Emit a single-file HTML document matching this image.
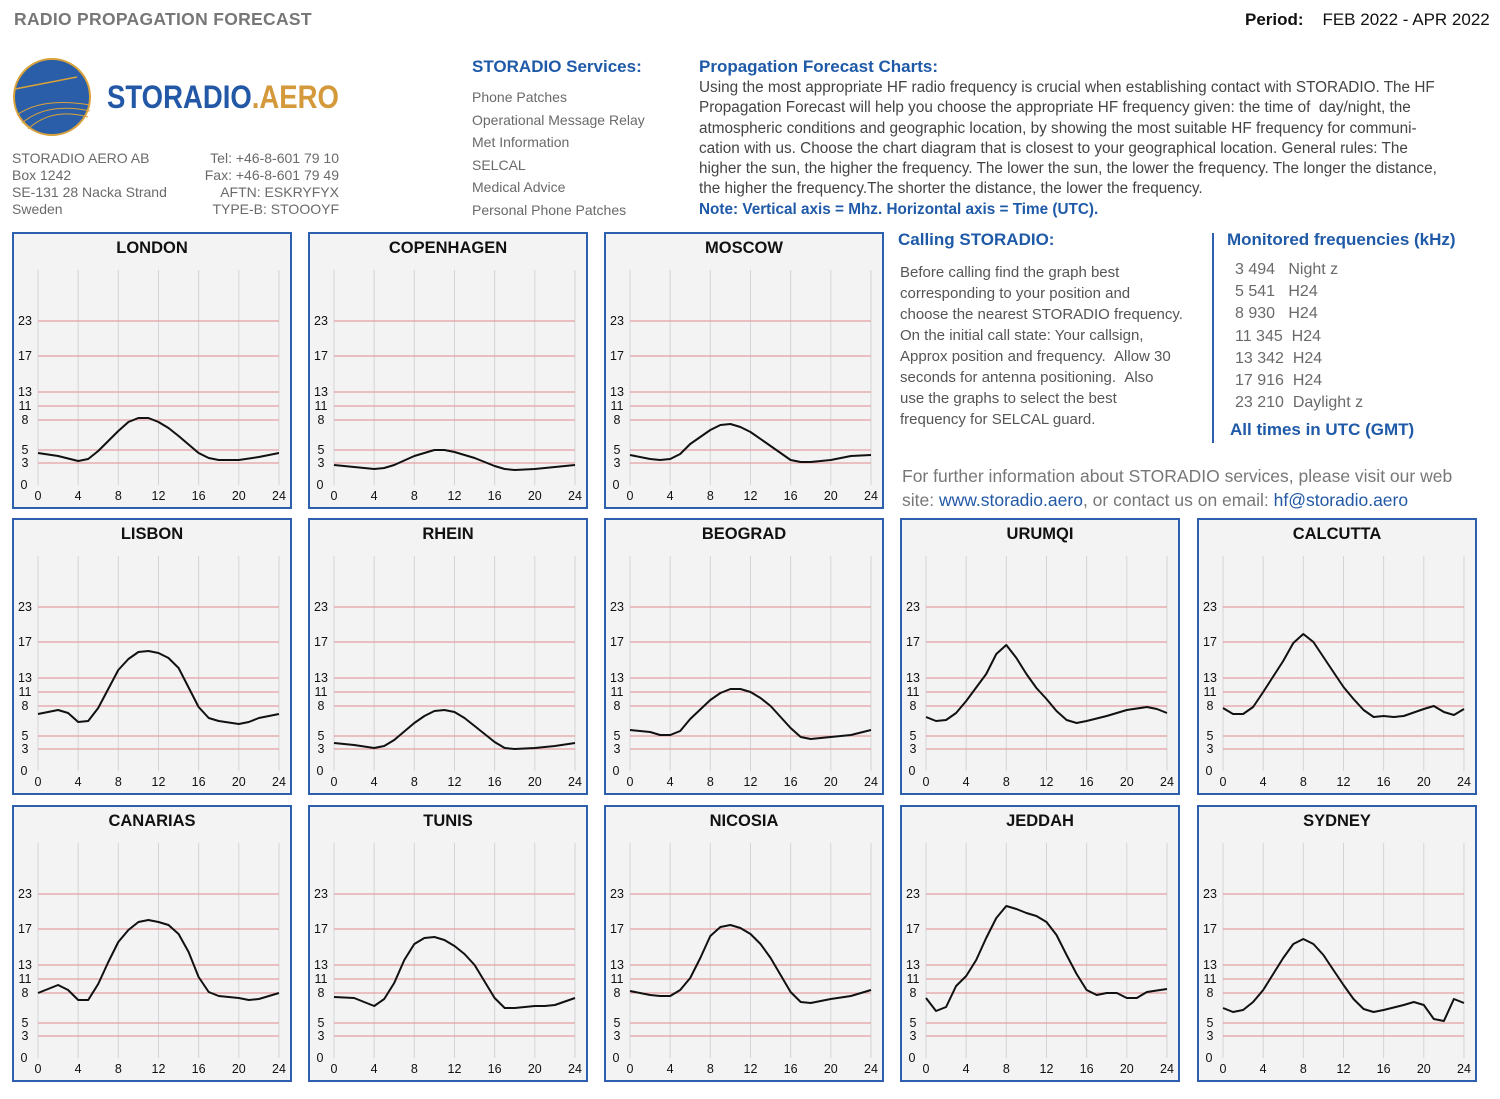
<!DOCTYPE html>
<html><head><meta charset="utf-8">
<style>
body{margin:0;width:1500px;height:1099px;background:#fff;position:relative;overflow:hidden;font-family:"Liberation Sans",sans-serif;}
.a{position:absolute;white-space:nowrap;}
.g{color:#6a6a6a;}
.b{color:#1f5aa8;font-weight:bold;}
.box{position:absolute;width:276px;height:273px;border:2px solid #2d5fae;background:#f3f3f3;}
</style></head><body>
<div class="a" style="left:14px;top:9px;font-size:17.5px;font-weight:bold;color:#777;letter-spacing:0.3px">RADIO PROPAGATION FORECAST</div>
<div class="a" style="left:1245px;top:10px;font-size:17px;color:#111;"><b>Period:</b>&nbsp;&nbsp;&nbsp; FEB 2022 - APR 2022</div>
<svg class="a" style="left:12px;top:57px" width="80" height="80"><circle cx="40" cy="40" r="38" fill="#2a5ea8" stroke="#d9a23a" stroke-width="2"/><path d="M3 32 L65 20" stroke="#d9a23a" stroke-width="1.5"/><path d="M5 58 Q30 40 78 48" stroke="#d9a23a" stroke-width="1" fill="none"/><path d="M10 66 Q35 45 78 54" stroke="#d9a23a" stroke-width="1" fill="none"/><path d="M16 72 Q40 50 76 60" stroke="#d9a23a" stroke-width="1" fill="none"/></svg>
<div class="a" style="left:107px;top:79px;font-size:32px;font-weight:bold;color:#2258a6;transform:scaleX(0.86);transform-origin:0 0;">STORADIO<span style="color:#d4993a">.AERO</span></div>
<div class="a g" style="left:12px;top:150px;font-size:14px;line-height:17px;">STORADIO AERO AB<br>Box 1242<br>SE-131 28 Nacka Strand<br>Sweden</div>
<div class="a g" style="left:190px;top:150px;width:149px;text-align:right;font-size:14px;line-height:17px;">Tel: +46-8-601 79 10<br>Fax: +46-8-601 79 49<br>AFTN: ESKRYFYX<br>TYPE-B: STOOOYF</div>
<div class="a b" style="left:472px;top:57px;font-size:17px;">STORADIO Services:</div>
<div class="a g" style="left:472px;top:86px;font-size:14px;line-height:22.6px;">Phone Patches<br>Operational Message Relay<br>Met Information<br>SELCAL<br>Medical Advice<br>Personal Phone Patches</div>
<div class="a b" style="left:699px;top:57px;font-size:17px;">Propagation Forecast Charts:</div>
<div class="a" style="left:699px;top:78px;font-size:15.3px;line-height:20.3px;color:#444;">Using the most appropriate HF radio frequency is crucial when establishing contact with STORADIO. The HF<br>Propagation Forecast will help you choose the appropriate HF frequency given: the time of &nbsp;day/night, the<br>atmospheric conditions and geographic location, by showing the most suitable HF frequency for communi-<br>cation with us. Choose the chart diagram that is closest to your geographical location. General rules: The<br>higher the sun, the higher the frequency. The lower the sun, the lower the frequency. The longer the distance,<br>the higher the frequency.The shorter the distance, the lower the frequency.<br><span class="b" style="font-size:15.3px">Note: Vertical axis = Mhz. Horizontal axis = Time (UTC).</span></div>
<div class="a b" style="left:898px;top:230px;font-size:17px;">Calling STORADIO:</div>
<div class="a g" style="left:900px;top:262px;font-size:15px;line-height:21px;color:#555;">Before calling find the graph best<br>corresponding to your position and<br>choose the nearest STORADIO frequency.<br>On the initial call state: Your callsign,<br>Approx position and frequency. &nbsp;Allow 30<br>seconds for antenna positioning. &nbsp;Also<br>use the graphs to select the best<br>frequency for SELCAL guard.</div>
<div class="a" style="left:1212px;top:233px;width:2px;height:210px;background:#2d5fae"></div>
<div class="a b" style="left:1227px;top:230px;font-size:17px;">Monitored frequencies (kHz)</div>
<div class="a g" style="left:1235px;top:259px;font-size:16px;line-height:22.2px;">3 494 &nbsp;&nbsp;Night z<br>5 541 &nbsp;&nbsp;H24<br>8 930 &nbsp;&nbsp;H24<br>11 345 &nbsp;H24<br>13 342 &nbsp;H24<br>17 916 &nbsp;H24<br>23 210 &nbsp;Daylight z</div>
<div class="a b" style="left:1230px;top:420px;font-size:17px;">All times in UTC (GMT)</div>
<div class="a g" style="left:902px;top:464px;font-size:17.5px;line-height:24px;color:#777;">For further information about STORADIO services, please visit our web<br>site: <span style="color:#2258a6">www.storadio.aero</span>, or contact us on email: <span style="color:#2258a6">hf@storadio.aero</span></div>
<div id="charts"></div>
<script>
var C=[
["LONDON",0,0,[[0,453],[2,456],[4,461],[5,459],[6,451],[8,431],[9,422],[10,418],[11,418],[12,422],[13,428],[14,436],[16,453],[17,458],[18,460],[20,460],[22,457],[24,453]]],
["COPENHAGEN",1,0,[[0,465],[2,467],[4,469],[5,468],[6,465],[8,456],[10,450],[11,450],[12,452],[14,458],[16,466],[17,469],[18,470],[20,469],[22,467],[24,465]]],
["MOSCOW",2,0,[[0,455],[2,459],[3,460],[4,459],[5,454],[6,444],[8,430],[9,425],[10,424],[11,427],[12,432],[14,446],[15,453],[16,460],[17,462],[18,462],[20,460],[22,456],[24,455]]],
["LISBON",0,1,[[0,714],[2,710],[3,713],[4,722],[5,721],[6,708],[8,670],[9,659],[10,652],[11,651],[12,653],[13,658],[14,668],[16,707],[17,718],[18,721],[20,724],[21,722],[22,718],[24,714]]],
["RHEIN",1,1,[[0,743],[2,745],[4,748],[5,746],[6,740],[8,723],[9,716],[10,711],[11,710],[12,712],[13,718],[14,726],[16,742],[17,748],[18,749],[20,748],[22,746],[24,743]]],
["BEOGRAD",2,1,[[0,730],[2,732],[3,735],[4,735],[5,731],[6,719],[8,700],[9,693],[10,689],[11,689],[12,692],[13,698],[14,706],[16,728],[17,737],[18,739],[20,737],[22,735],[24,730]]],
["URUMQI",3,1,[[0,717],[1,721],[2,720],[3,713],[4,701],[6,674],[7,654],[8,645],[9,658],[10,674],[11,688],[12,699],[13,711],[14,720],[15,723],[16,721],[18,716],[20,710],[22,707],[23,709],[24,713]]],
["CALCUTTA",4,1,[[0,708],[1,714],[2,714],[3,707],[4,692],[6,661],[7,643],[8,634],[9,642],[10,657],[11,672],[12,687],[13,699],[14,710],[15,717],[16,716],[17,717],[18,716],[20,709],[21,706],[22,712],[23,715],[24,709]]],
["CANARIAS",0,2,[[0,993],[2,985],[3,990],[4,1000],[5,1000],[6,984],[7,962],[8,942],[9,930],[10,922],[11,920],[12,922],[13,925],[14,934],[15,952],[16,977],[17,992],[18,996],[20,998],[21,1000],[22,999],[24,993]]],
["TUNIS",1,2,[[0,997],[2,998],[3,1002],[4,1006],[5,999],[6,983],[7,960],[8,944],[9,938],[10,937],[11,940],[12,946],[13,954],[14,965],[16,998],[17,1008],[18,1008],[20,1006],[21,1006],[22,1005],[24,998]]],
["NICOSIA",2,2,[[0,991],[2,995],[3,996],[4,996],[5,990],[6,978],[7,958],[8,936],[9,927],[10,925],[11,928],[12,934],[13,944],[14,958],[15,975],[16,992],[17,1002],[18,1003],[20,999],[22,996],[24,990]]],
["JEDDAH",3,2,[[0,998],[1,1011],[2,1007],[3,986],[4,976],[5,960],[6,938],[7,918],[8,906],[9,909],[10,913],[11,916],[12,922],[13,935],[14,955],[15,974],[16,990],[17,995],[18,993],[19,993],[20,998],[21,998],[22,992],[24,989]]],
["SYDNEY",4,2,[[0,1008],[1,1012],[2,1010],[3,1002],[4,990],[5,974],[6,958],[7,944],[8,939],[9,944],[10,955],[11,970],[12,985],[13,999],[14,1009],[15,1012],[16,1010],[18,1005],[19,1002],[20,1005],[21,1019],[22,1021],[23,999],[24,1003]]]];
var XS=[12,308,604,900,1197],YS=[232,518,805],h="";
var yl=[[23,89],[17,124],[13,160],[11,174],[8,188],[5,218],[3,231]];
C.forEach(function(c){
 var L=XS[c[1]],T=YS[c[2]];
 var s='<div class="box" style="left:'+L+'px;top:'+T+'px"></div><svg class="a" style="left:'+L+'px;top:'+T+'px" width="280" height="277" font-family="Liberation Sans, sans-serif">';
 s+='<text x="140" y="21" text-anchor="middle" font-size="16.5" font-weight="bold" fill="#111">'+c[0]+'</text>';
 for(var i=0;i<=24;i+=4){var x=26+i*10.04;s+='<line x1="'+x+'" y1="38" x2="'+x+'" y2="253" stroke="#d4d4d4" stroke-width="1"/>';s+='<text x="'+x+'" y="268" text-anchor="middle" font-size="12.5" fill="#111">'+i+'</text>';}
 yl.forEach(function(v){s+='<line x1="26" y1="'+v[1]+'" x2="267" y2="'+v[1]+'" stroke="#e3a0a5" stroke-width="1.2"/><text x="13" y="'+(v[1]+4)+'" text-anchor="middle" font-size="12.5" fill="#111">'+v[0]+'</text>';});
 s+='<text x="12" y="257" text-anchor="middle" font-size="12.5" fill="#111">0</text>';
 s+='<polyline fill="none" stroke="#111" stroke-width="2" stroke-linejoin="round" points="'+c[3].map(function(p){return (26+p[0]*10.04).toFixed(1)+','+(p[1]-T)}).join(' ')+'"/></svg>';
 h+=s;});
document.getElementById('charts').innerHTML=h;
</script>
</body></html>
